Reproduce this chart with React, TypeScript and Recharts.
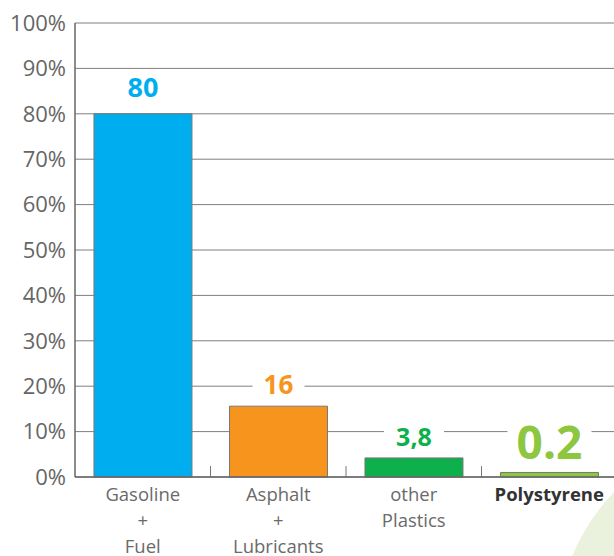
import React from "react";
import {
  BarChart,
  Bar,
  XAxis,
  YAxis,
  CartesianGrid,
  LabelList,
  ReferenceLine,
  Cell,
} from "recharts";

const categories = ["Gasoline + Fuel", "Asphalt + Lubricants", "other Plastics", "Polystyrene"];
const categoryLines = [
  ["Gasoline", "+", "Fuel"],
  ["Asphalt", "+", "Lubricants"],
  ["other", "Plastics"],
  ["Polystyrene"],
];
const barValues = [80, 15.6, 4.2, 1.0];
const valueLabels = ["80", "16", "3,8", "0.2"];
const yTicks = [0, 10, 20, 30, 40, 50, 60, 70, 80, 90, 100];
const boundaryCategories = [categories[1], categories[2], categories[3]];
const boundaryTickHeight = 2.4;

const barColors = ["#00AEEF", "#F7941D", "#0DB04B", "#8DC63F"];
const labelSizes = [27, 26, 25, 46];
const labelOffsets = [27, 22, 22, 31];
const labelPad = [50, 52, 60, 84];

const FONT = "'Open Sans', 'Noto Sans', sans-serif";

const data = categories.map((c, i) => ({
  name: c,
  value: barValues[i],
  label: valueLabels[i],
}));

const ValueLabel = (props: any) => {
  const { x, y, width, index } = props;
  const size = labelSizes[index];
  const cx = x + width / 2;
  const cy = y - labelOffsets[index];
  const w = labelPad[index];
  return (
    <g>
      <rect x={cx - w / 2} y={cy - size * 0.45} width={w} height={size * 0.9} fill="#ffffff" />
      <text
        x={cx}
        y={cy}
        textAnchor="middle"
        dominantBaseline="central"
        fontFamily={FONT}
        fontWeight={700}
        fontSize={size}
        fill={barColors[index]}
      >
        {valueLabels[index]}
      </text>
    </g>
  );
};

const CategoryTick = (props: any) => {
  const { x, y, payload } = props;
  const idx = categories.indexOf(payload.value);
  const lines = categoryLines[idx] || [];
  const bold = idx === 3;
  return (
    <g>
      {lines.map((l, i) => (
        <text
          key={i}
          x={x}
          y={y + 16 + i * 26}
          textAnchor="middle"
          dominantBaseline="central"
          fontFamily={FONT}
          fontSize={18.5}
          fontWeight={bold ? 700 : 400}
          fill={bold ? "#333333" : "#6a6a6a"}
        >
          {l}
        </text>
      ))}
    </g>
  );
};

export default function App() {
  return (
    <div
      style={{
        position: "absolute",
        left: 0,
        top: 0,
        width: 614,
        height: 556,
        overflow: "hidden",
        background: "#ffffff",
      }}
    >
      <div
        style={{
          position: "absolute",
          left: 770 - 215,
          top: 640 - 215,
          width: 430,
          height: 430,
          borderRadius: "50%",
          background: "#eaf2de",
        }}
      />
      <div style={{ position: "absolute", left: 0, top: 0 }}>
        <BarChart
          width={620}
          height={556}
          data={data}
          margin={{ top: 23, right: 3, bottom: 0, left: 0 }}
          barCategoryGap="14%"
        >
          <CartesianGrid vertical={false} stroke="#7f7f7f" strokeWidth={1} />
          <XAxis
            dataKey="name"
            height={79}
            axisLine={{ stroke: "#666666", strokeWidth: 1.5 }}
            tickLine={false}
            tickSize={0}
            tickMargin={0}
            interval={0}
            tick={<CategoryTick />}
          />
          <YAxis
            width={75}
            domain={[0, 100]}
            ticks={yTicks}
            interval={0}
            tickFormatter={(v: number) => `${v}%`}
            axisLine={{ stroke: "#666666", strokeWidth: 1.5 }}
            tickLine={false}
            tickSize={0}
            tickMargin={9}
            tick={{ fontFamily: FONT, fontSize: 22, fill: "#666666" }}
          />
          {boundaryCategories.map((c) => (
            <ReferenceLine
              key={c}
              position="start"
              segment={[
                { x: c, y: 0 },
                { x: c, y: boundaryTickHeight },
              ]}
              stroke="#777777"
              strokeWidth={1}
            />
          ))}
          <Bar dataKey="value" isAnimationActive={false} stroke="#777777" strokeWidth={1}>
            {data.map((d, i) => (
              <Cell key={d.name} fill={barColors[i]} />
            ))}
            <LabelList dataKey="label" content={<ValueLabel />} />
          </Bar>
        </BarChart>
      </div>
    </div>
  );
}
